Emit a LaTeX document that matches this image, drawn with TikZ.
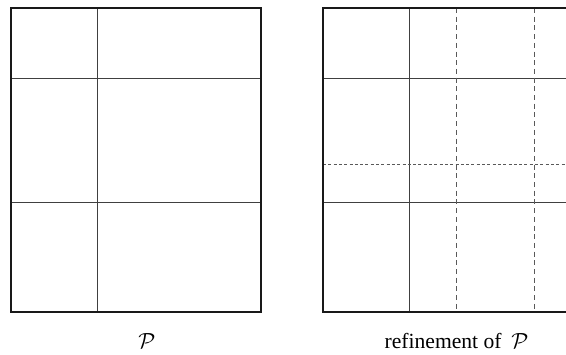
\documentclass[tikz,border=0pt]{standalone}
\usepackage{fontspec}
\setmainfont{Liberation Serif}
\begin{document}
\begin{tikzpicture}[x=0.5pt,y=-0.5pt,
  outer/.style={line width=0.8pt,draw=black!90},
  inner/.style={line width=0.5pt,draw=black!75},
  hdash/.style={line width=0.5pt,draw=black!65,dash pattern=on 1.5pt off 1.15pt},
  vdash/.style={line width=0.5pt,draw=black!65,dash pattern=on 2.5pt off 1.85pt},
  lbl/.style={anchor=base,inner sep=0pt,font=\fontsize{10.8}{13}\selectfont}]
\useasboundingbox (0,0) rectangle (566,354);
\clip (0,0) rectangle (566,354);
% left partition
\draw[inner] (97,8) -- (97,312);
\draw[inner] (11,78) -- (261,78);
\draw[inner] (11,202) -- (261,202);
\draw[outer] (11,8) rectangle (261,312);
% right refinement
\draw[inner] (409,8) -- (409,312);
\draw[inner] (323,78) -- (573,78);
\draw[inner] (323,202) -- (573,202);
\draw[vdash] (456,8) -- (456,312);
\draw[vdash] (534,8) -- (534,312);
\draw[hdash] (323,164) -- (573,164);
\draw[outer] (323,8) rectangle (573,312);
% labels
\node[lbl] (lp) at (147,348) {$\mathcal{P}$};
\node[lbl] (lr) at (456.5,348) {refinement of~\hspace{0.2em}$\mathcal{P}$};
\end{tikzpicture}
\end{document}
